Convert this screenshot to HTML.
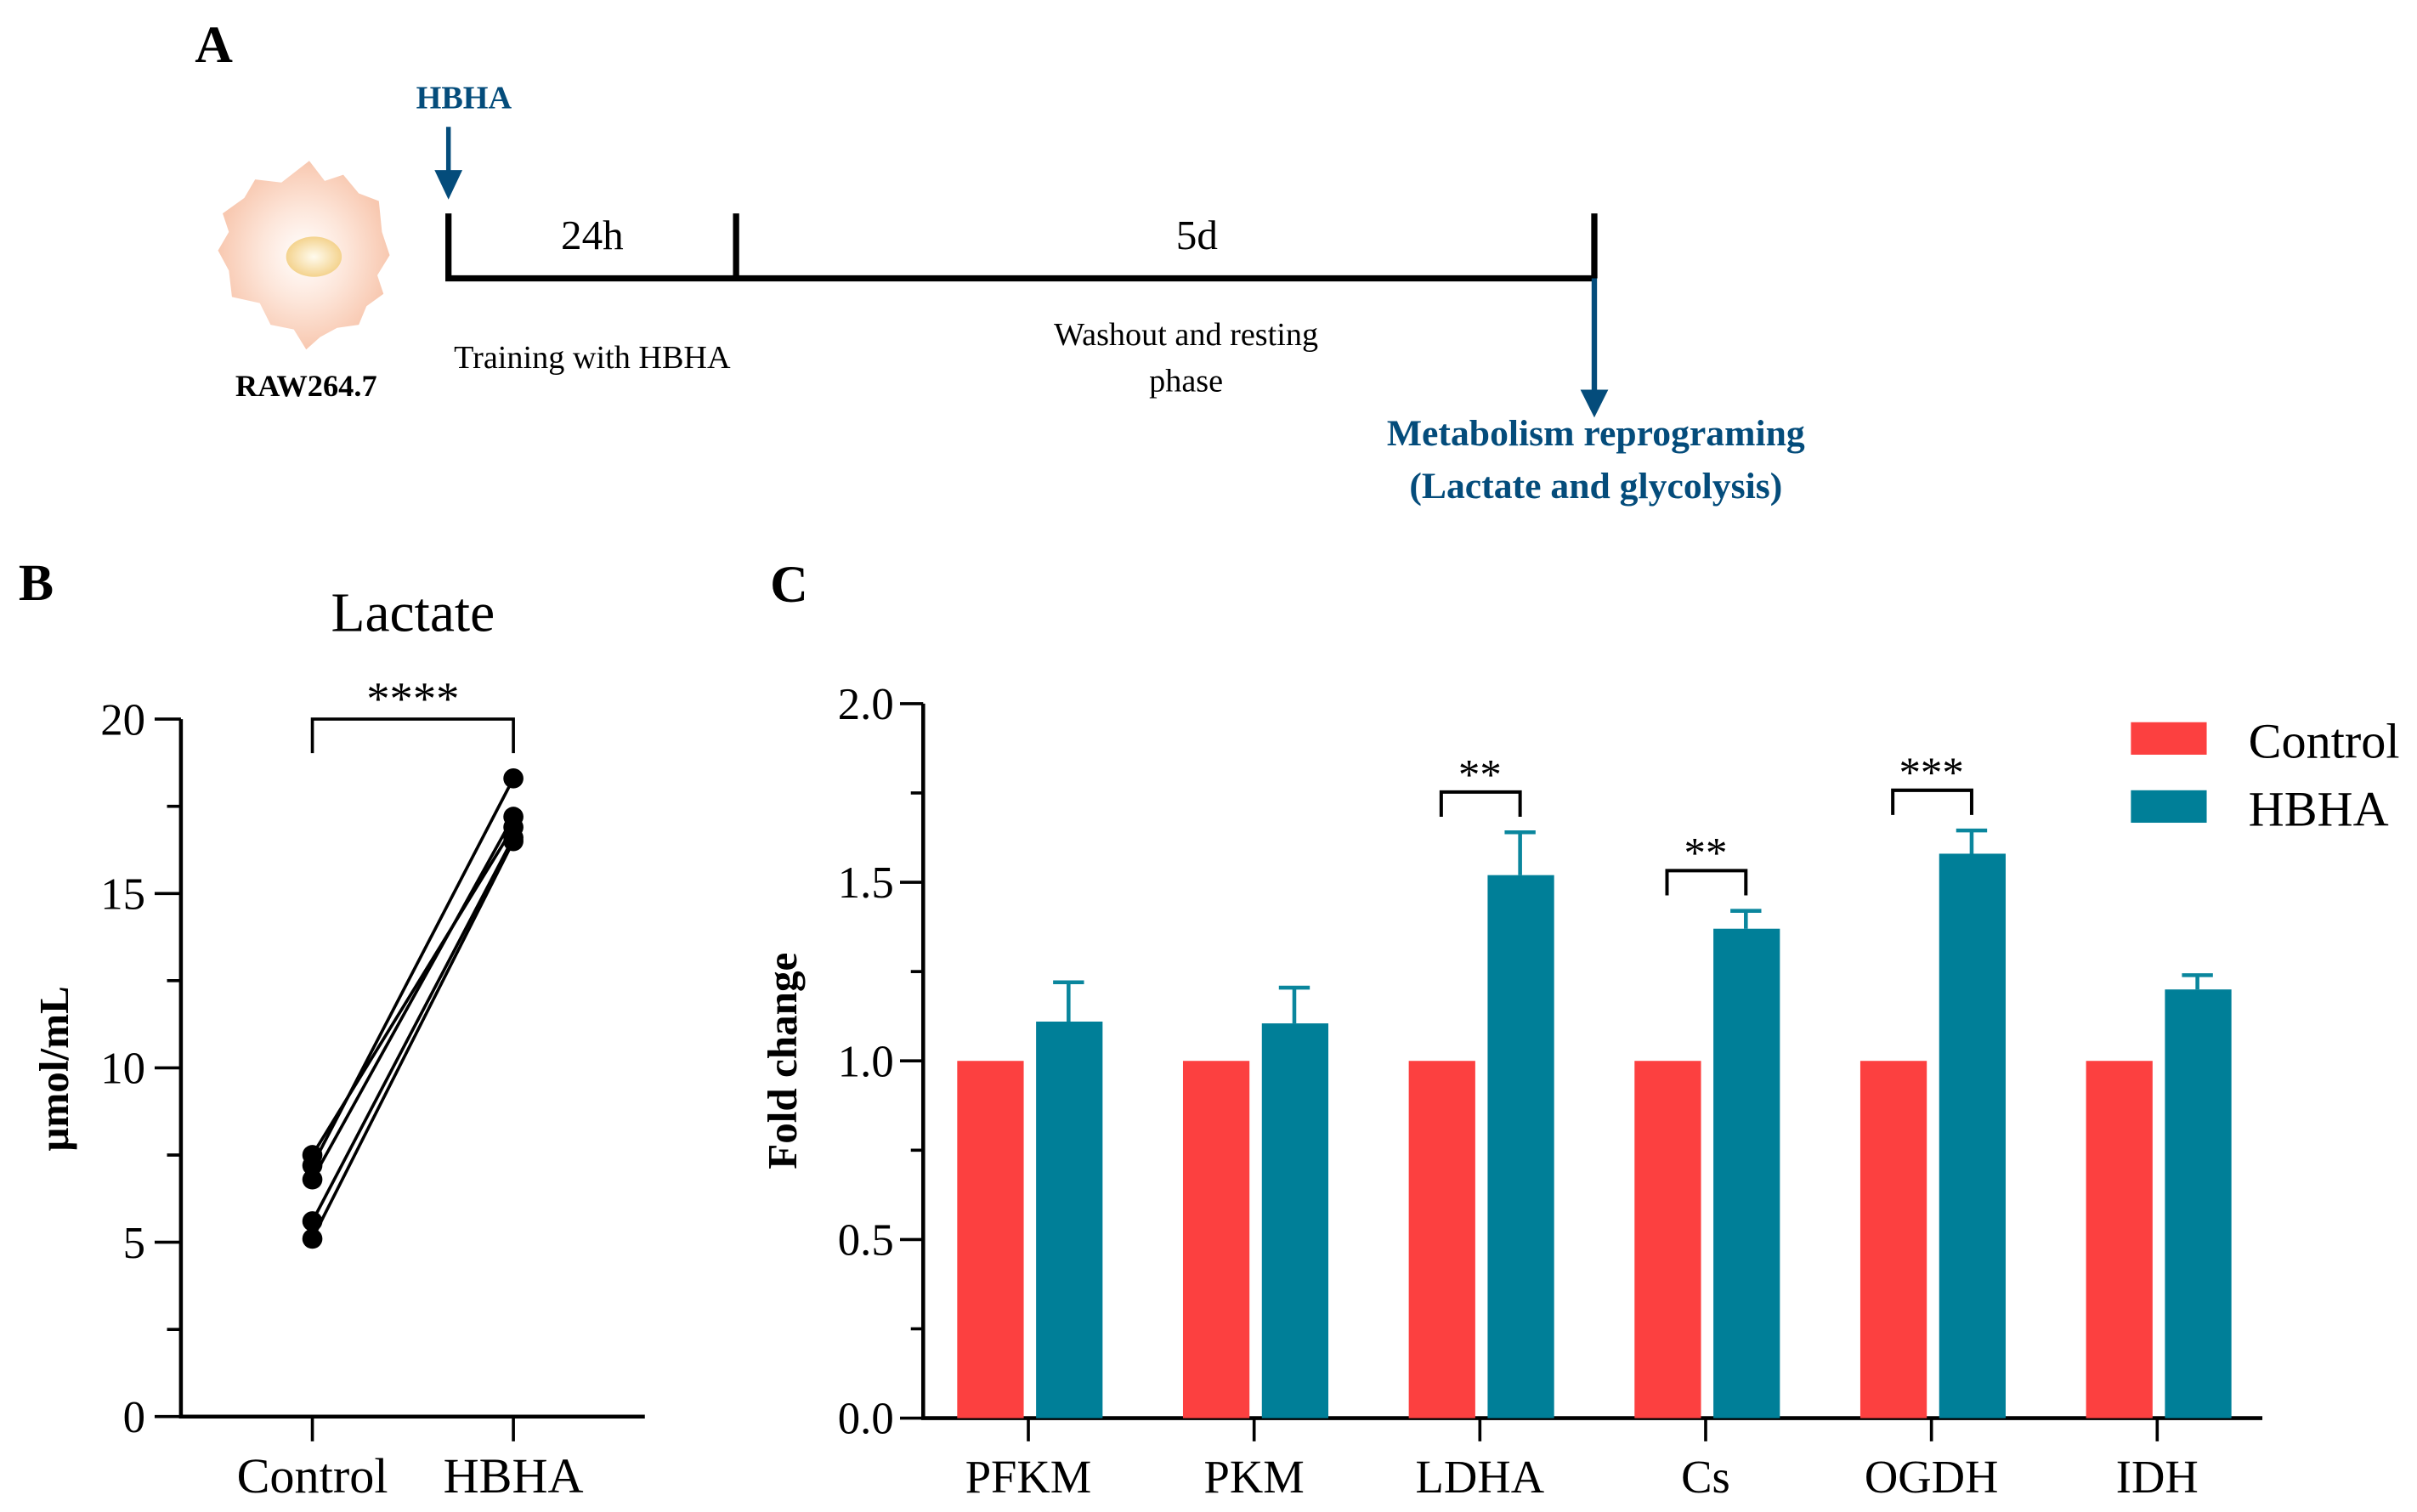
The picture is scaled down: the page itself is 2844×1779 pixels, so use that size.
<!DOCTYPE html>
<html><head><meta charset="utf-8"><style>
html,body{margin:0;padding:0;background:#fff;}
svg{display:block;}
text{font-family:"Liberation Serif",serif;}
</style></head><body>
<svg id="fig" width="2844" height="1779" viewBox="0 0 1563 977.7" preserveAspectRatio="none" xmlns="http://www.w3.org/2000/svg">
<defs>
<radialGradient id="cellg" cx="0.5" cy="0.5" r="0.5"><stop offset="0" stop-color="#fff"/><stop offset="0.5" stop-color="#fde6da"/><stop offset="1" stop-color="#f8c8b0"/></radialGradient>
<radialGradient id="nucg" cx="0.5" cy="0.5" r="0.5"><stop offset="0" stop-color="#fffbee"/><stop offset="1" stop-color="#f4d38e"/></radialGradient>
</defs>
<g>
<text x="126" y="40" font-size="34" font-weight="bold">A</text>
<path d="M200,104 L210,117 L222,113 L232,125 L245,130 L247,150 L252,165 L244,178 L248,190 L237,198 L232,210 L218,212 L207,218 L198,226 L190,213 L175,210 L168,196 L150,192 L148,175 L141,162 L148,150 L144,138 L158,128 L165,116 L182,118 Z" fill="url(#cellg)"/>
<ellipse cx="203" cy="166" rx="18" ry="13" fill="url(#nucg)"/>
<text x="198" y="256" font-size="20" font-weight="bold" text-anchor="middle">RAW264.7</text>
<text x="300" y="70" font-size="21" font-weight="bold" fill="#044c7b" text-anchor="middle">HBHA</text>
<line x1="290" y1="82" x2="290" y2="112" stroke="#044c7b" stroke-width="3"/>
<polygon points="281,110 299,110 290,129" fill="#044c7b"/>
<path d="M290,138 V180 H1031 M476,138 V180 M1031,138 V180" fill="none" stroke="#000" stroke-width="4"/>
<text x="383" y="161" font-size="27" text-anchor="middle">24h</text>
<text x="774" y="161" font-size="27" text-anchor="middle">5d</text>
<text x="383" y="238" font-size="21" text-anchor="middle">Training with HBHA</text>
<text x="767" y="223" font-size="21" text-anchor="middle">Washout and resting</text>
<text x="767" y="253" font-size="21" text-anchor="middle">phase</text>
<line x1="1031" y1="180" x2="1031" y2="255" stroke="#044c7b" stroke-width="3.5"/>
<polygon points="1022,252 1040,252 1031,270" fill="#044c7b"/>
<text x="1032" y="288" font-size="24" font-weight="bold" fill="#044c7b" text-anchor="middle">Metabolism reprograming</text>
<text x="1032" y="322" font-size="24" font-weight="bold" fill="#044c7b" text-anchor="middle">(Lactate and glycolysis)</text>
</g>
<g>
<text x="12" y="388" font-size="34" font-weight="bold">B</text>
<text x="267" y="408" font-size="36" text-anchor="middle">Lactate</text>
<text transform="translate(44,691) rotate(-90)" font-size="27" font-weight="bold" text-anchor="middle">μmol/mL</text>
<g id="gb"></g>
</g>
<g>
<text x="498" y="389" font-size="34" font-weight="bold">C</text>
<text transform="translate(515,686) rotate(-90)" font-size="27" font-weight="bold" text-anchor="middle">Fold change</text>
<g id="gc"></g>
<rect x="1378" y="467" width="49" height="21" fill="#fc4040"/>
<text x="1454" y="490" font-size="32">Control</text>
<rect x="1378" y="511" width="49" height="21" fill="#007f98"/>
<text x="1454" y="534" font-size="32">HBHA</text>
</g>
</svg>
<script>
const NS='http://www.w3.org/2000/svg';
// Panel B data
const bCategories=['Control','HBHA'];
const bControl=[7.5,7.2,6.8,5.6,5.1];
const bHBHA=[16.9,18.3,17.2,16.6,16.5];
const bTicks=[0,5,10,15,20];
// Panel C data
const cCategories=['PFKM','PKM','LDHA','Cs','OGDH','IDH'];
const cControl=[1,1,1,1,1,1];
const cHBHA=[1.11,1.105,1.52,1.37,1.58,1.20];
const cErr=[0.11,0.10,0.12,0.05,0.065,0.04];
const cTicks=[0,0.5,1.0,1.5,2.0];
const cSig=['','','**','**','***',''];

function mk(parent,tag,attrs,txt){const e=document.createElementNS(NS,tag);for(const k in attrs)e.setAttribute(k,attrs[k]);if(txt!==undefined)e.textContent=txt;parent.appendChild(e);return e;}

// Panel B
(function(){
const g=document.getElementById('gb');
const y=v=>916-v*(451/20);
const x=i=>202+i*130;
const ax=mk(g,'path',{d:'M117,'+y(20)+' V916 H417',fill:'none',stroke:'#000','stroke-width':2.5});


for(let v=0;v<=20;v+=2.5){mk(g,'line',{x1:v%5===0?100:108,x2:117,y1:y(v),y2:y(v),stroke:'#000','stroke-width':2});}
bTicks.forEach(v=>{const t=mk(g,'text',{x:94,y:y(v)+10,'font-size':29,'text-anchor':'end'},String(v));

});
bCategories.forEach((c,i)=>{mk(g,'line',{x1:x(i),x2:x(i),y1:916,y2:932,stroke:'#000','stroke-width':2});
const t=mk(g,'text',{x:x(i),y:965,'font-size':32,'text-anchor':'middle'},c);

});
bControl.forEach((v,i)=>{const l=mk(g,'line',{x1:x(0),y1:y(v),x2:x(1),y2:y(bHBHA[i]),stroke:'#000','stroke-width':2});

});
bControl.forEach((v,i)=>{[v,bHBHA[i]].forEach((w,j)=>{const c=mk(g,'circle',{cx:x(j),cy:y(w),r:6.5,fill:'#000'});

});});
const br=mk(g,'path',{d:'M'+x(0)+',487 V465 H'+x(1)+' V487',fill:'none',stroke:'#000','stroke-width':2});


const s=mk(g,'text',{x:(x(0)+x(1))/2,y:462,'font-size':30,'text-anchor':'middle'},'****');


})();

// Panel C
(function(){
const g=document.getElementById('gc');
const y=v=>917-v*(462/2);
const gx=i=>665+i*146;
const ax=mk(g,'path',{d:'M597,'+y(2)+' V917 H1463',fill:'none',stroke:'#000','stroke-width':2.5});


for(let v=0;v<=2.0001;v+=0.25){const major=Math.abs(v*2-Math.round(v*2))<1e-6;mk(g,'line',{x1:major?582:589,x2:597,y1:y(v),y2:y(v),stroke:'#000','stroke-width':2});}
cTicks.forEach(v=>{const t=mk(g,'text',{x:578,y:y(v)+10,'font-size':29,'text-anchor':'end'},v.toFixed(1));

});
cCategories.forEach((c,i)=>{
const cx=gx(i);
mk(g,'line',{x1:cx,x2:cx,y1:917,y2:932,stroke:'#000','stroke-width':2});
const t=mk(g,'text',{x:cx,y:965,'font-size':30,'text-anchor':'middle'},c);


const r1=mk(g,'rect',{x:cx-46,y:y(cControl[i]),width:43,height:917-y(cControl[i]),fill:'#fc4040'});


const top=y(cHBHA[i]+cErr[i]);
const e=mk(g,'path',{d:'M'+(cx+26)+','+y(cHBHA[i])+' V'+top+' M'+(cx+16)+','+top+' H'+(cx+36),stroke:'#0a869d','stroke-width':2.5,fill:'none'});


const r2=mk(g,'rect',{x:cx+5,y:y(cHBHA[i]),width:43,height:917-y(cHBHA[i]),fill:'#007f98'});


if(cSig[i]){
const by=top-26;
const b=mk(g,'path',{d:'M'+(cx-25)+','+(by+16)+' V'+by+' H'+(cx+26)+' V'+(by+16),fill:'none',stroke:'#000','stroke-width':2.2});


const s=mk(g,'text',{x:cx,y:by-2,'font-size':28,'text-anchor':'middle'},cSig[i]);


}
});
})();
</script>
</body></html>
